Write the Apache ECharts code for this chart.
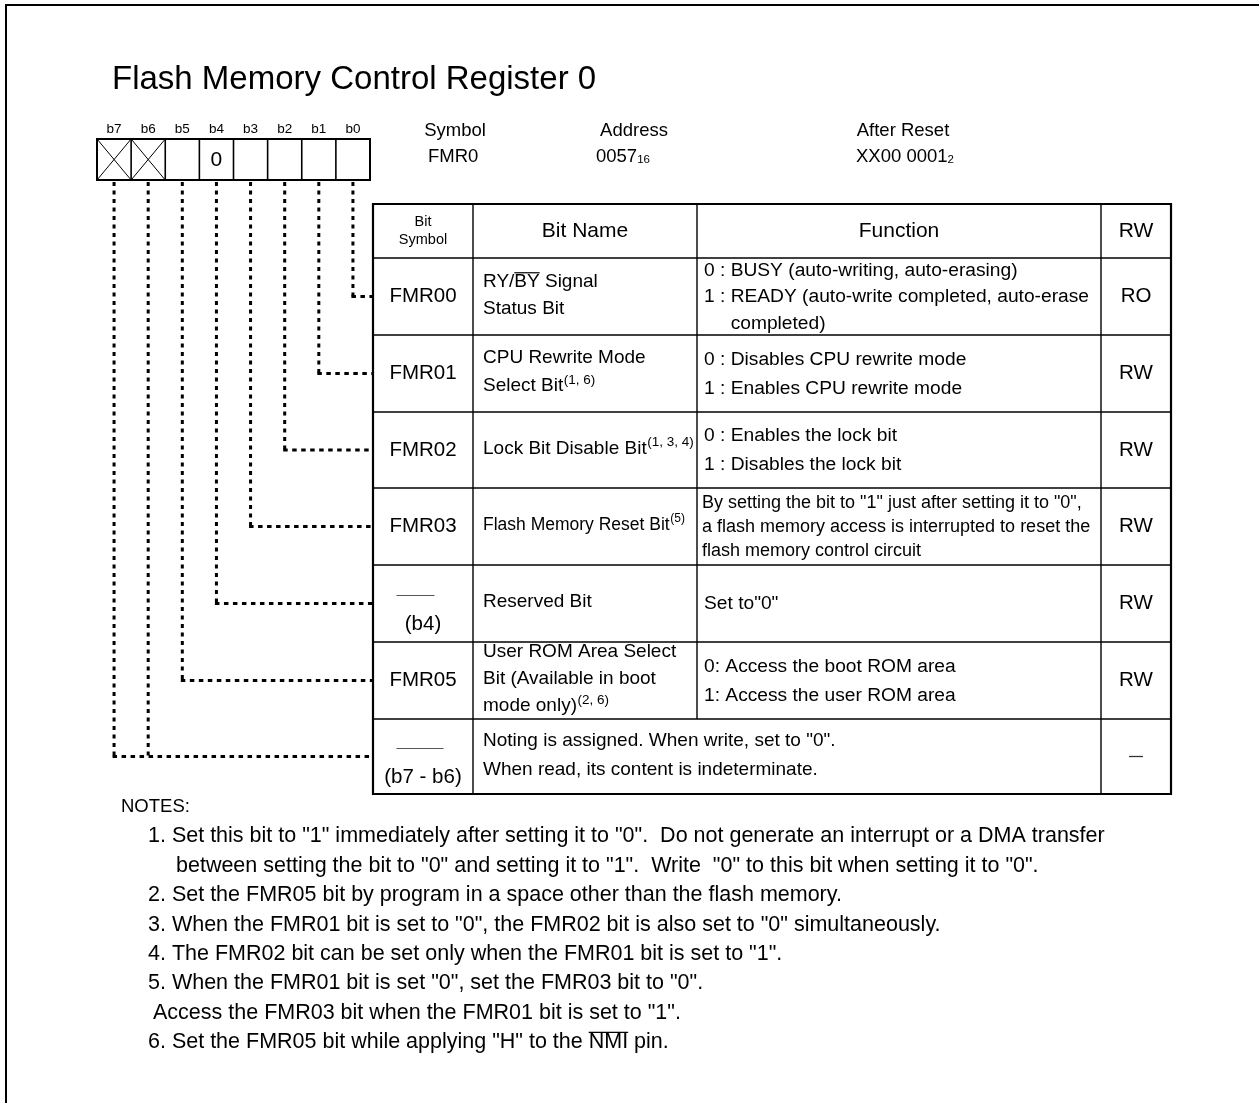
<!DOCTYPE html>
<html>
<head>
<meta charset="utf-8">
<script src="https://cdn.jsdelivr.net/npm/echarts@6/dist/echarts.min.js"></script>
<style>
  html, body { margin: 0; padding: 0; background: #fff; }
  #chart { width: 1259px; height: 1103px; }
</style>
</head>
<body>
<div id="chart"></div>
<script>
// ---------------- DATA ----------------
const titleText = 'Flash Memory Control Register 0';
const bitLabels = ['b7', 'b6', 'b5', 'b4', 'b3', 'b2', 'b1', 'b0'];
const registerCells = ['x', 'x', '', '0', '', '', '', ''];   // 'x' = not implemented
const infoLabels = ['Symbol', 'Address', 'After Reset'];
const infoValues = ['FMR0', '0057', 'XX00 0001'];
const infoSubscripts = ['', '16', '2'];
const columnTitles = ['Bit\nSymbol', 'Bit Name', 'Function', 'RW'];
const rowSymbols = ['FMR00', 'FMR01', 'FMR02', 'FMR03', '', 'FMR05', ''];
const rowReservedBits = ['', '', '', '', '(b4)', '', '(b7 - b6)'];
const rowBitIndex = [[7], [6], [5], [4], [3], [2], [0, 1]];   // register cell index (0 = b7)
const rowNames = [
  ['RY/~BY~ Signal', 'Status Bit'],
  ['CPU Rewrite Mode', 'Select Bit'],
  ['Lock Bit Disable Bit'],
  ['Flash Memory Reset Bit'],
  ['Reserved Bit'],
  ['User ROM Area Select', 'Bit (Available in boot', 'mode only)'],
  ['Noting is assigned. When write, set to "0".', 'When read, its content is indeterminate.']
];
const rowNameNotes = ['', '(1, 6)', '(1, 3, 4)', '(5)', '', '(2, 6)', ''];
const rowFunctions = [
  ['0 : BUSY (auto-writing, auto-erasing)', '1 : READY (auto-write completed, auto-erase', 'completed)'],
  ['0 : Disables CPU rewrite mode', '1 : Enables CPU rewrite mode'],
  ['0 : Enables the lock bit', '1 : Disables the lock bit'],
  ['By setting the bit to "1" just after setting it to "0",', 'a flash memory access is interrupted to reset the', 'flash memory control circuit'],
  ['Set to"0"'],
  ['0: Access the boot ROM area', '1: Access the user ROM area'],
  []
];
const rowAccess = ['RO', 'RW', 'RW', 'RW', 'RW', 'RW', '—'];
const notesTitle = 'NOTES:';
const notes = [
  ['1. Set this bit to "1" immediately after setting it to "0".  Do not generate an interrupt or a DMA transfer',
   'between setting the bit to "0" and setting it to "1".  Write  "0" to this bit when setting it to "0".'],
  ['2. Set the FMR05 bit by program in a space other than the flash memory.'],
  ['3. When the FMR01 bit is set to "0", the FMR02 bit is also set to "0" simultaneously.'],
  ['4. The FMR02 bit can be set only when the FMR01 bit is set to "1".'],
  ['5. When the FMR01 bit is set "0", set the FMR03 bit to "0".',
   'Access the FMR03 bit when the FMR01 bit is set to "1".'],
  ['6. Set the FMR05 bit while applying "H" to the ~NMI~ pin.']
];

// ---------------- LAYOUT ----------------
const FONT = '"Liberation Sans", Arial, Helvetica, sans-serif';
const L = {
  frame: { x: 6, y: 5 },
  title: { x: 112, y: 80, size: 33 },
  reg: { x: 97, y: 139, w: 34.125, h: 41, labelY: 129, labelSize: 13.5, valSize: 21 },
  info: { xs: [455, 634, 903], labelY: 131, valY: 157, size: 18.5, valStarts: [428, 596, 856] },
  table: { cols: [373, 473, 697, 1101, 1171], rows: [204, 258, 335, 412, 488, 565, 642, 719, 794] },
  hdrSize: 21, symHdrSize: 14.5, symSize: 20.5, nameSize: 19, funcSize: 19.2, rwSize: 20.5,
  smallRow: 3, smallNameSize: 17.5, smallFuncSize: 18, supSize: 13.5,
  nameGap: [27, 28, 28, 24, 28, 27, 29],
  funcGap: [26.3, 29, 29, 24, 28, 29, 29],
  textX: 483, funcX: 704,
  notes: { x: 121, y: 807, numX: 148, gap: 29.4, titleSize: 18.5, size: 21.5, indent: [28, 0, 0, 0, 5, 0] }
};

// ---------------- HELPERS ----------------
const mctx = document.createElement('canvas').getContext('2d');
function tw(text, size) { mctx.font = size + 'px ' + FONT; return mctx.measureText(text).width; }
const els = [];
function text(t, x, y, size, align) {
  els.push({
    type: 'text', x: x, y: y, silent: true,
    style: { text: t, font: size + 'px ' + FONT, fill: '#000',
      align: align || 'left', textAlign: align || 'left',
      verticalAlign: 'middle', textVerticalAlign: 'middle' }
  });
}
function line(x1, y1, x2, y2, w, color) {
  els.push({ type: 'line', silent: true, shape: { x1: x1, y1: y1, x2: x2, y2: y2 },
    style: { stroke: color || '#000', lineWidth: w || 1 } });
}
// text with ~overlined~ parts; returns drawn width
function richLine(str, x, y, size) {
  const parts = str.split('~');
  text(parts.join(''), x, y, size, 'left');
  let cx = x;
  parts.forEach(function (p, i) {
    const w = tw(p, size);
    if (i % 2 === 1) line(cx, y - size * 0.46, cx + w, y - size * 0.46, 1.2);
    cx += w;
  });
  return cx - x;
}

// ---------------- BUILD ----------------
els.push({ type: 'rect', silent: true, shape: { x: L.frame.x, y: L.frame.y, width: 1400, height: 1300 },
  style: { fill: null, stroke: '#000', lineWidth: 2 } });
text(titleText, L.title.x, L.title.y, L.title.size, 'left');

// register box
const R = L.reg;
bitLabels.forEach(function (b, i) {
  const cx = R.x + R.w * (i + 0.5);
  text(b, cx, R.labelY, R.labelSize, 'center');
  const x0 = R.x + R.w * i;
  if (registerCells[i] === 'x') {
    line(x0, R.y, x0 + R.w, R.y + R.h, 1);
    line(x0 + R.w, R.y, x0, R.y + R.h, 1);
  } else if (registerCells[i] !== '') {
    text(registerCells[i], cx, R.y + R.h / 2 + 1, R.valSize, 'center');
  }
  if (i > 0) line(x0, R.y, x0, R.y + R.h, 1.6);
});
els.push({ type: 'rect', silent: true, shape: { x: R.x, y: R.y, width: R.w * 8, height: R.h },
  style: { fill: null, stroke: '#000', lineWidth: 2 } });

// info
infoLabels.forEach(function (lab, i) {
  text(lab, L.info.xs[i], L.info.labelY, L.info.size, 'center');
  const vx = L.info.valStarts[i];
  text(infoValues[i], vx, L.info.valY, L.info.size, 'left');
  if (infoSubscripts[i]) {
    text(infoSubscripts[i], vx + tw(infoValues[i], L.info.size), L.info.valY + 3, 11.5, 'left');
  }
});

// table grid
const T = L.table;
const cols = T.cols, rows = T.rows;
for (let r = 1; r < rows.length - 1; r++) line(cols[0], rows[r], cols[4], rows[r], 1.4);
line(cols[1], rows[0], cols[1], rows[rows.length - 1], 1.4);
line(cols[2], rows[0], cols[2], rows[rows.length - 2], 1.4);
line(cols[3], rows[0], cols[3], rows[rows.length - 1], 1.4);
els.push({ type: 'rect', silent: true,
  shape: { x: cols[0], y: rows[0], width: cols[4] - cols[0], height: rows[rows.length - 1] - rows[0] },
  style: { fill: null, stroke: '#000', lineWidth: 2.2 } });

// header
const hy = (rows[0] + rows[1]) / 2;
const symHdr = columnTitles[0].split('\n');
text(symHdr[0], (cols[0] + cols[1]) / 2, hy - 9, L.symHdrSize, 'center');
text(symHdr[1], (cols[0] + cols[1]) / 2, hy + 9, L.symHdrSize, 'center');
for (let c = 1; c < 4; c++) text(columnTitles[c], (cols[c] + cols[c + 1]) / 2, hy, L.hdrSize, 'center');

// rows
rowSymbols.forEach(function (sym, r) {
  const top = rows[r + 1], bot = rows[r + 2];
  const cy = (top + bot) / 2;
  const symX = (cols[0] + cols[1]) / 2;
  if (sym) {
    text(sym, symX, cy, L.symSize, 'center');
  } else {
    const w = tw(rowReservedBits[r], L.symSize);
    const x0 = cols[0] + 23.5;
    line(x0, cy - 8, x0 + (w < 50 ? 38 : 47), cy - 8, 1.2, '#555');
    text(rowReservedBits[r], symX, cy + 21, L.symSize, 'center');
  }
  const small = r === L.smallRow;
  const ns = small ? L.smallNameSize : L.nameSize;
  const names = rowNames[r];
  const ng = L.nameGap[r];
  names.forEach(function (n, k) {
    const y = cy - 1.5 + (k - (names.length - 1) / 2) * ng;
    const w = richLine(n, L.textX, y, ns);
    if (k === names.length - 1 && rowNameNotes[r]) {
      text(rowNameNotes[r], L.textX + w + 0.5, y - 6, small ? L.supSize - 1.5 : L.supSize, 'left');
    }
  });
  const funcs = rowFunctions[r];
  const fs = small ? L.smallFuncSize : L.funcSize;
  const fg = L.funcGap[r];
  const hang = funcs.length && /^\d/.test(funcs[0]);
  funcs.forEach(function (f, k) {
    const y = cy + 0.5 + (k - (funcs.length - 1) / 2) * fg;
    let x = small ? L.funcX - 2 : L.funcX;
    if (hang && !/^\d/.test(f)) x += tw('1 : ', fs);
    text(f, x, y, fs, 'left');
  });
  const ax = (cols[3] + cols[4]) / 2;
  if (rowAccess[r] === '—') {
    line(ax - 7, cy, ax + 7, cy, 1.3, '#333');
  } else {
    text(rowAccess[r], ax, cy, L.rwSize, 'center');
  }
  // dotted connectors
  const idx = rowBitIndex[r];
  const xs = idx.map(function (i) { return R.x + R.w * (i + 0.5); });
  xs.forEach(function (x) {
    els.push({ type: 'polyline', silent: true,
      shape: { points: [[x, R.y + R.h + 2], [x, cy]] },
      style: { stroke: '#000', lineWidth: 3, lineDash: [4, 4.5], fill: null } });
  });
  els.push({ type: 'polyline', silent: true,
    shape: { points: [[Math.min.apply(null, xs) - 1.5, cy], [cols[0], cy]] },
    style: { stroke: '#000', lineWidth: 3, lineDash: [4.5, 4.5], fill: null } });
});

// notes
const N = L.notes;
text(notesTitle, N.x, N.y, N.titleSize, 'left');
let ny = N.y;
notes.forEach(function (lines, i) {
  lines.forEach(function (s, k) {
    ny += N.gap;
    const x = k === 0 ? N.numX : N.numX + N.indent[i];
    richLine(s, x, ny, N.size);
  });
});

const chart = echarts.init(document.getElementById('chart'), null, { renderer: 'canvas' });
chart.setOption({ animation: false, backgroundColor: '#fff', graphic: { elements: els } });
</script>
</body>
</html>
